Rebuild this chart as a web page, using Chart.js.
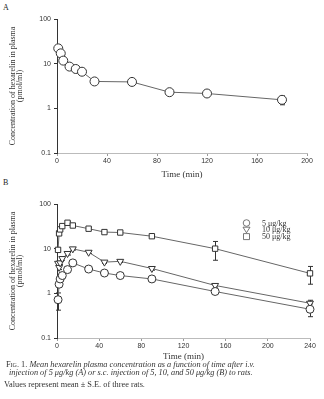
<!DOCTYPE html>
<html>
<head>
<meta charset="utf-8">
<script src="https://cdn.jsdelivr.net/npm/chart.js@4/dist/chart.umd.min.js"></script>
<style>
  html, body { margin: 0; padding: 0; background: #fff; }
  body { width: 324px; height: 399px; position: relative; overflow: hidden; font-family: "Liberation Serif", serif; color: #222; }
  .wrap { position: absolute; left: 0; width: 324px; }
  #boxA { top: 0; height: 180px; }
  #boxB { top: 180px; height: 182px; }
  .panel { position: absolute; font-size: 8px; left: 3px; }
  .cap { position: absolute; font-size: 8.3px; white-space: nowrap; color: #333; }
  .cap i { font-style: italic; }
  .sc { font-variant: small-caps; }
</style>
</head>
<body>
<div class="panel" style="top:3px">A</div>
<div class="panel" style="top:178px">B</div>
<div class="wrap" id="boxA"><canvas id="chartA" width="324" height="180"></canvas></div>
<div class="wrap" id="boxB"><canvas id="chartB" width="324" height="182"></canvas></div>
<div class="cap" style="left:6px;top:360px"><span class="sc">Fig.</span> 1. <i>Mean hexarelin plasma concentration as a function of time after i.v.</i></div>
<div class="cap" style="left:9px;top:368px"><i>injection of 5 μg/kg (A) or s.c. injection of 5, 10, and 50 μg/kg (B) to rats.</i></div>
<div class="cap" style="left:4px;top:380px">Values represent mean ± S.E. of three rats.</div>
<script>
// 値は画像から目視で読み取ったもの（pmol/ml）
const timeA  = [1, 3, 5, 10, 15, 20, 30, 60, 90, 120, 180]
const ivA    = [22, 17, 11.7, 8.6, 7.6, 6.6, 4.0, 3.9, 2.3, 2.15, 1.55]
const ivA_se = [2, 1.5, 1, 0.8, 1, 0.5, 0.3, 0.3, 0.25, 0.15, 0.35]

const timeB   = [1, 2, 3, 5, 10, 15, 30, 45, 60, 90, 150, 240]
const sc5     = [0.72, 1.6, 2.1, 2.5, 3.4, 4.8, 3.5, 2.85, 2.5, 2.1, 1.1, 0.44]
const sc5_se  = [0.3, 0.2, 0.2, 0.2, 0.3, 0.3, 0.2, 0.2, 0.15, 0.15, 0.1, 0.14]
const sc10    = [4.7, 3.8, 4.8, 6.0, 7.8, 9.9, 8.3, 5.0, 5.2, 3.6, 1.5, 0.6]
const sc10_se = [0.4, 0.4, 0.4, 0.5, 0.6, 0.6, 0.5, 0.3, 0.3, 0.3, 0.12, 0.1]
const sc50    = [9.4, 22, 27, 32, 38, 33, 28, 23.5, 23, 19, 10, 2.8]
const sc50_se = [1, 2, 2, 2, 2, 2, 1.5, 1.5, 1.5, 1.5, 4.5, 1.2]

const xTicksA = [0, 40, 80, 120, 160, 200]
const xTicksB = [0, 40, 80, 120, 160, 200, 240]
const yTicks  = [0.1, 1, 10, 100]
const legendLabels = ["5 μg/kg", "10 μg/kg", "50 μg/kg"]

const ink = "#333"
const lineCol = "#666"

const pts = (xs, ys) => xs.map((x, i) => ({ x: x, y: ys[i] }))

// エラーバー描画（平均 ± S.E.）
const errorBars = {
  id: "errorBars",
  beforeDatasetsDraw(chart) {
    const ctx = chart.ctx
    const xs = chart.scales.x, ys = chart.scales.y
    ctx.save()
    ctx.strokeStyle = ink
    ctx.lineWidth = 1
    chart.data.datasets.forEach((ds) => {
      if (!ds.se) return
      ds.data.forEach((p, i) => {
        const x = Math.round(xs.getPixelForValue(p.x)) + 0.5
        const lo = Math.max(p.y - ds.se[i], 0.1)
        const yTop = ys.getPixelForValue(p.y + ds.se[i])
        const yBot = ys.getPixelForValue(lo)
        ctx.beginPath()
        ctx.moveTo(x, yTop); ctx.lineTo(x, yBot)
        ctx.moveTo(x - 2.5, yTop); ctx.lineTo(x + 2.5, yTop)
        ctx.moveTo(x - 2.5, yBot); ctx.lineTo(x + 2.5, yBot)
        ctx.stroke()
      })
    })
    ctx.restore()
  }
}

// 凡例（プロット右上の中に描く）
const innerLegend = {
  id: "innerLegend",
  afterDraw(chart) {
    if (!chart.options.plugins.innerLegend.show) return
    const ctx = chart.ctx
    ctx.save()
    chart.data.datasets.forEach((ds, i) => {
      const y = 43 + i * 6.8
      ctx.strokeStyle = "#555"
      ctx.fillStyle = "#fff"
      ctx.lineWidth = 0.8
      ctx.beginPath()
      if (ds.pointStyle === "circle") ctx.arc(246.5, y, 3.3, 0, Math.PI * 2)
      else if (ds.pointStyle === "rect") ctx.rect(243.5, y - 3, 6, 6)
      else { ctx.moveTo(243, y - 2.6); ctx.lineTo(250, y - 2.6); ctx.lineTo(246.5, y + 3); ctx.closePath() }
      ctx.fill(); ctx.stroke()
      ctx.fillStyle = ink
      ctx.font = "8px 'Liberation Serif'"
      ctx.textBaseline = "middle"
      ctx.fillText(legendLabels[i], 262, y + 0.5)
    })
    ctx.restore()
  }
}

function series(data, se, style, r) {
  return {
    data: data, se: se,
    pointStyle: style,
    pointRotation: style === "triangle" ? 180 : 0,
    pointRadius: r, pointHoverRadius: r,
    pointBackgroundColor: "#fff",
    pointBorderColor: ink,
    pointBorderWidth: 1,
    borderColor: lineCol,
    borderWidth: 1,
    showLine: true,
    clip: false,
    tension: 0
  }
}

function axes(xMax, xTicks, yW, xH) {
  return {
    x: {
      type: "linear", min: 0, max: xMax,
      afterBuildTicks: (s) => { s.ticks = xTicks.map((v) => ({ value: v })) },
      afterFit: (s) => { s.height = xH },
      grid: { drawOnChartArea: false, drawTicks: true, tickLength: 3, color: "#999" },
      border: { color: "#bbb", width: 1 },
      ticks: { color: ink, font: { family: "Liberation Sans", size: 7 }, padding: 1, maxRotation: 0 },
      title: { display: true, text: "Time (min)", color: ink, font: { family: "Liberation Serif", size: 9 }, padding: { top: 2, bottom: 0 } }
    },
    y: {
      type: "logarithmic", min: 0.1, max: 100,
      afterBuildTicks: (s) => { s.ticks = yTicks.map((v) => ({ value: v })) },
      afterFit: (s) => { s.width = yW },
      grid: { drawOnChartArea: false, drawTicks: true, tickLength: 3, color: ink },
      border: { color: ink, width: 1 },
      ticks: { color: ink, font: { family: "Liberation Sans", size: 7 }, padding: 3, callback: (v) => String(v) },
      title: { display: true, text: ["Concentration of hexarelin in plasma", "(pmol/ml)"], color: ink, font: { family: "Liberation Serif", size: 8, lineHeight: 0.85 }, padding: { top: 10, bottom: 0 } }
    }
  }
}

function opts(xMax, xTicks, pad, yW, xH, legendOn) {
  return {
    responsive: false,
    animation: false,
    events: [],
    layout: { padding: pad },
    scales: axes(xMax, xTicks, yW, xH),
    plugins: { legend: { display: false }, tooltip: { enabled: false }, innerLegend: { show: legendOn } }
  }
}

new Chart(document.getElementById("chartA"), {
  type: "scatter",
  data: { datasets: [series(pts(timeA, ivA), ivA_se, "circle", 4.5)] },
  options: opts(200, xTicksA, { top: 19, right: 17, left: 0, bottom: 0 }, 57, 27, false),
  plugins: [errorBars, innerLegend]
})

new Chart(document.getElementById("chartB"), {
  type: "scatter",
  data: {
    datasets: [
      series(pts(timeB, sc5), sc5_se, "circle", 4),
      series(pts(timeB, sc10), sc10_se, "triangle", 4),
      series(pts(timeB, sc50), sc50_se, "rect", 3.8)
    ]
  },
  options: opts(240, xTicksB, { top: 24, right: 14, left: 0, bottom: 0 }, 57, 24, true),
  plugins: [errorBars, innerLegend]
})
</script>
</body>
</html>
